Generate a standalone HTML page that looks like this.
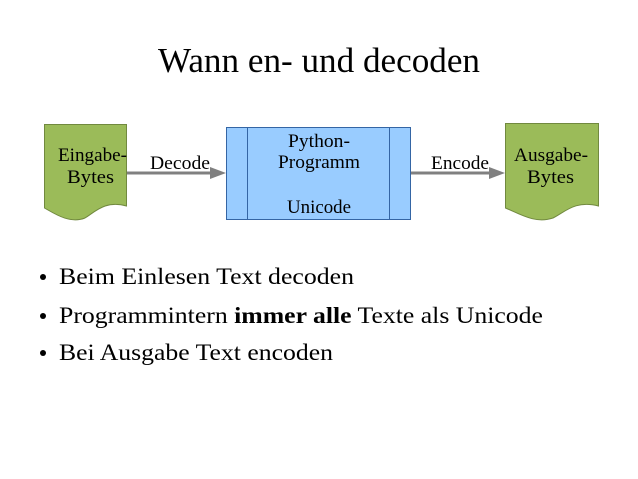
<!DOCTYPE html>
<html><head><meta charset="utf-8"><style>
body{margin:0;width:638px;height:479px;background:#fff;font-family:"Liberation Serif",serif;position:relative;overflow:hidden}
</style></head><body>
<svg width="638" height="479" style="position:absolute;left:0;top:0" font-family="Liberation Serif, serif">
<text x="158" y="72" font-size="35" textLength="322" lengthAdjust="spacingAndGlyphs">Wann en- und decoden</text>
<path d="M44.5,124.5 H126.5 V206 C105,200 95,212 85,218 C70,224 55,214 44.5,208 Z" fill="#9bbb59" stroke="#71893f"/>
<path d="M505.5,123.5 H598.5 V206 C575,200 565,212 553,218 C535,224 520,214 505.5,208 Z" fill="#9bbb59" stroke="#71893f"/>
<rect x="226.5" y="127.5" width="184" height="92" fill="#99ccff" stroke="#3465a4"/>
<line x1="247.5" y1="127.5" x2="247.5" y2="219.5" stroke="#3465a4"/>
<line x1="389.5" y1="127.5" x2="389.5" y2="219.5" stroke="#3465a4"/>
<line x1="127" y1="173" x2="212" y2="173" stroke="#808080" stroke-width="3"/>
<polygon points="226,173 210,167 210,179" fill="#808080"/>
<line x1="411" y1="173" x2="491" y2="173" stroke="#808080" stroke-width="3"/>
<polygon points="505,173 489,167 489,179" fill="#808080"/>
<g font-size="19">
<text x="58" y="161" textLength="69" lengthAdjust="spacingAndGlyphs">Eingabe-</text>
<text x="67" y="183" textLength="47" lengthAdjust="spacingAndGlyphs">Bytes</text>
<text x="514" y="161" textLength="74" lengthAdjust="spacingAndGlyphs">Ausgabe-</text>
<text x="527" y="183" textLength="47" lengthAdjust="spacingAndGlyphs">Bytes</text>
<text x="288" y="147" textLength="62" lengthAdjust="spacingAndGlyphs">Python-</text>
<text x="278" y="168" textLength="82" lengthAdjust="spacingAndGlyphs">Programm</text>
<text x="287" y="213" textLength="64" lengthAdjust="spacingAndGlyphs">Unicode</text>
<text x="150" y="169" textLength="60" lengthAdjust="spacingAndGlyphs">Decode</text>
<text x="431" y="169" textLength="58" lengthAdjust="spacingAndGlyphs">Encode</text>
</g>
<g font-size="23">
<circle cx="43" cy="277" r="3"/><text x="59" y="284" textLength="295" lengthAdjust="spacingAndGlyphs">Beim Einlesen Text decoden</text>
<circle cx="43" cy="316" r="3"/><text x="59" y="323" textLength="484" lengthAdjust="spacingAndGlyphs">Programmintern <tspan font-weight="bold">immer alle</tspan> Texte als Unicode</text>
<circle cx="43" cy="353" r="3"/><text x="59" y="360" textLength="274" lengthAdjust="spacingAndGlyphs">Bei Ausgabe Text encoden</text>
</g>
</svg>
</body></html>
